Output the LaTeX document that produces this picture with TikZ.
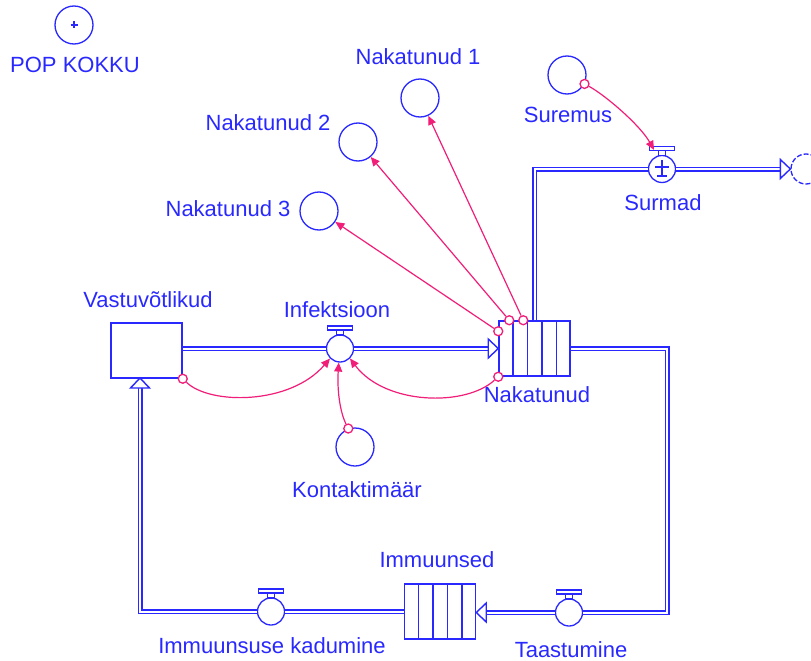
\documentclass[tikz,border=0pt]{standalone}
\usepackage{fontspec}
\setmainfont{Liberation Sans}
\usetikzlibrary{arrows.meta,calc}
\definecolor{sfblue}{RGB}{40,40,255}
\definecolor{sfpink}{RGB}{240,30,120}
\begin{document}
\begin{tikzpicture}[x=1pt,y=-1pt,
  lbl/.style={text=sfblue,font=\fontsize{22}{24}\selectfont,inner sep=0pt},
  auxv/.style={circle,draw=sfblue,line width=1.3pt,minimum size=38pt,inner sep=0pt},
  valve/.style={circle,draw=sfblue,line width=1.3pt,minimum size=27pt,inner sep=0pt,fill=white},
  stockbox/.style={rectangle,draw=sfblue,line width=1.5pt,inner sep=0pt,minimum width=71pt,minimum height=55pt},
  pipe/.style={draw=sfblue,double=white,line width=1.5pt,double distance=2pt},
  flowtip/.style={draw=sfblue,fill=white,line width=1.4pt,line join=miter},
  handle/.style={draw=sfblue,line width=1.3pt,fill=white},
  conn/.style={draw=sfpink,line width=1.2pt,-{Triangle[length=9pt,width=8pt]}},
  origin/.style={circle,draw=sfpink,line width=1.3pt,fill=white,minimum size=9pt,inner sep=0pt},
  valvetop/.pic={
    \draw[handle] (-3.5,-18.5) rectangle (3.5,-13.5);
    \draw[handle] (-12.5,-22.5) rectangle (12.5,-18.5);
  },
  flowhead/.pic={\draw[flowtip] (0,0) -- (-10,-9.5) -- (-10,9.5) -- cycle;},
]
\useasboundingbox (0,0) rectangle (811,661);

% ---------- ghost of the total population ----------
\node[auxv] (pop) at (74,25) {};
\draw[sfblue,line width=1.1pt] ($(pop)+(-3.5,0)$) -- ($(pop)+(3.5,0)$)
                               ($(pop)+(0,-3.5)$) -- ($(pop)+(0,3.5)$);
\node[lbl] (popl) at (75,65) {POP KOKKU};

% ---------- stocks ----------
\node[stockbox] (vas) at (146.5,350.5) {};
\node[lbl] (vasl) at (148,300) {Vastuvõtlikud};

\node[stockbox] (nak) at (534.5,348.5) {};
\foreach \k in {1,...,4}
  \draw[sfblue,line width=1.5pt] ($(nak.north west)+(14.5*\k,0)$) -- ($(nak.south west)+(14.5*\k,0)$);
\node[lbl] (nakl) at (537,395) {Nakatunud};

\node[stockbox] (imm) at (440,611.5) {};
\foreach \k in {1,...,4}
  \draw[sfblue,line width=1.5pt] ($(imm.north west)+(14.5*\k,0)$) -- ($(imm.south west)+(14.5*\k,0)$);
\node[lbl] (imml) at (437,560) {Immuunsed};

% ---------- flow valves ----------
\node[valve] (inf) at (340,348.5) {};
\pic at (inf) {valvetop};
\node[lbl] (infl) at (337,310) {Infektsioon};

\node[valve] (taa) at (569,612.5) {};
\pic at (taa) {valvetop};
\node[lbl] (taal) at (571,650) {Taastumine};

\node[valve] (ikd) at (271,611.5) {};
\pic at (ikd) {valvetop};
\node[lbl] (ikdl) at (272,646) {Immuunsuse kadumine};

\node[valve] (sur) at (662,169) {};
\pic at (sur) {valvetop};
\draw[sfblue,line width=1.1pt] ($(sur)+(-7,-2)$) -- ($(sur)+(7,-2)$)
                               ($(sur)+(0,-9)$) -- ($(sur)+(0,7)$)
                               ($(sur)+(-5,7)$) -- ($(sur)+(5,7)$);
\node[lbl] (surl) at (663,203) {Surmad};

% sink cloud
\node[circle,draw=sfblue,line width=1.3pt,dash pattern=on 5pt off 2pt,minimum size=30pt,inner sep=0pt] (cl) at (806,169) {};

% ---------- pipes ----------
\draw[pipe] (vas.east |- inf) -- (inf.west);
\draw[pipe] (inf.east) -- ($(nak.west |- inf)+(-10,0)$);
\pic at (nak.west |- inf) {flowhead};

\coordinate (cR) at (667,612.5);
\draw[pipe] (nak.east) -| (cR) -- (taa.east);
\draw[pipe] (taa.west) -- ($(imm.east |- taa)+(10,0)$);
\pic[rotate=180] at (imm.east |- taa) {flowhead};

\coordinate (vasIn) at (140,378);
\draw[pipe] (imm.west) -- (ikd.east);
\draw[pipe] (ikd.west) -| ($(vasIn)+(0,10)$);
\pic[rotate=90] at (vasIn) {flowhead};

\draw[pipe] (nak.north) |- (sur.west);
\draw[pipe] (sur.east) -- ($(cl.west)+(-10,0)$);
\pic at (cl.west) {flowhead};

% ---------- auxiliaries ----------
\node[auxv] (kon) at (355,447) {};
\node[lbl] (konl) at (357,490) {Kontaktimäär};

\node[auxv] (n1) at (420,98) {};
\node[lbl] (n1l) at (418,57) {Nakatunud 1};
\node[auxv] (n2) at (358,142) {};
\node[lbl] (n2l) at (268,123) {Nakatunud 2};
\node[auxv] (n3) at (319,211) {};
\node[lbl] (n3l) at (228,209) {Nakatunud 3};

\node[auxv] (sure) at (567,75) {};
\node[lbl] (surel) at (568,115) {Suremus};

% ---------- information connectors ----------
\node[origin] (o1) at (vas.south east) {};
\node[origin] (o2) at (kon.110) {};
\node[origin] (o3) at (nak.south west) {};
\node[origin] (o4) at ($(nak.north west)+(0,11)$) {};
\node[origin] (o5) at ($(nak.north west)+(11,0)$) {};
\node[origin] (o6) at ($(nak.north west)+(25,0)$) {};
\node[origin] (o7) at (sure.-27) {};

\draw[conn] (o1) .. controls (210,405) and (290,405) .. (inf.south west);
\draw[conn] (o2) .. controls (340,412) and (337,390) .. (inf.265);
\draw[conn] (o3) .. controls (465,407) and (385,405) .. (inf.-45);
\draw[conn] (o4) -- (n3);
\draw[conn] (o5) -- (n2);
\draw[conn] (o6) -- (n1);
\draw[conn] (o7) .. controls (605,95) and (640,125) .. ($(sur.north)+(-8,-5)$);

\end{tikzpicture}
\end{document}
